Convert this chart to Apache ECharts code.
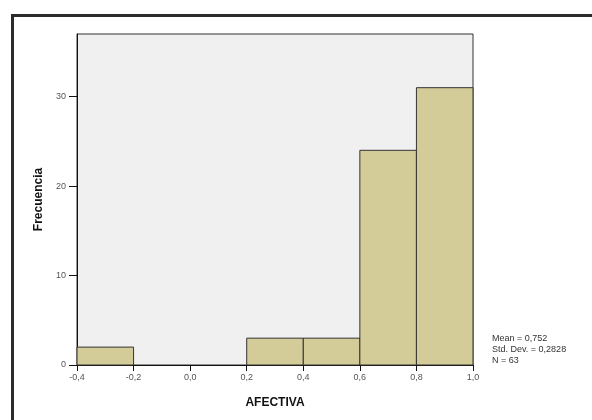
<!DOCTYPE html>
<html>
<head>
<meta charset="utf-8">
<script src="https://cdn.jsdelivr.net/npm/echarts@6/dist/echarts.min.js"></script>
<style>
html,body{margin:0;padding:0;background:#fff;}
#chart{width:592px;height:420px;}
</style>
</head>
<body>
<div id="chart"></div>
<script>
var binStarts = [-0.4, -0.2, 0.0, 0.2, 0.4, 0.6, 0.8];
var binEnds   = [-0.2,  0.0, 0.2, 0.4, 0.6, 0.8, 1.0];
var counts    = [2, 0, 0, 3, 3, 24, 31];
var yTicks = [0, 10, 20, 30];
var statsLines = ['Mean = 0,752', 'Std. Dev. = 0,2828', 'N = 63'];
var xTitle = 'AFECTIVA';
var yTitle = 'Frecuencia';

var data = binStarts.map(function (s, i) { return [s, binEnds[i], counts[i]]; });

var chart = echarts.init(document.getElementById('chart'), null, {renderer: 'canvas'});
chart.setOption({
  backgroundColor: '#ffffff',
  animation: false,
  grid: {
    left: 77, top: 34, right: 119, bottom: 55,
    show: true, backgroundColor: '#f0f0f0', borderColor: '#333333', borderWidth: 1
  },
  xAxis: {
    type: 'value', min: -0.4, max: 1.0, interval: 0.2,
    name: xTitle, nameLocation: 'middle', nameGap: 32,
    nameTextStyle: {fontFamily: 'Liberation Sans', fontWeight: 'bold', fontSize: 12, color: '#111'},
    axisLine: {show: true, onZero: false, lineStyle: {color: '#111', width: 1}},
    axisTick: {show: true, length: 6, lineStyle: {color: '#111'}},
    axisLabel: {
      margin: 8, fontSize: 9, color: '#555', fontFamily: 'Liberation Sans',
      formatter: function (v) { return v.toFixed(1).replace('.', ','); }
    },
    splitLine: {show: false}
  },
  yAxis: {
    type: 'value', min: 0, max: 37,
    name: yTitle, nameLocation: 'middle', nameGap: 32,
    nameTextStyle: {fontFamily: 'Liberation Sans', fontWeight: 'bold', fontSize: 12, color: '#111'},
    axisLine: {show: true, onZero: false, lineStyle: {color: '#111', width: 1}},
    axisTick: {show: true, length: 8, customValues: yTicks, lineStyle: {color: '#111'}},
    axisLabel: {margin: 11, fontSize: 9, color: '#555', fontFamily: 'Liberation Sans', customValues: yTicks},
    splitLine: {show: false}
  },
  series: [{
    type: 'custom',
    data: data,
    encode: {x: [0, 1], y: 2},
    renderItem: function (params, api) {
      var c = api.value(2);
      if (!c) return null;
      var p0 = api.coord([api.value(0), c]);
      var p1 = api.coord([api.value(1), 0]);
      return {
        type: 'rect',
        shape: {x: p0[0], y: p0[1], width: p1[0] - p0[0], height: p1[1] - p0[1]},
        style: {fill: '#d3cc98', stroke: '#333333', lineWidth: 1}
      };
    }
  }],
  graphic: [
    {type: 'rect', left: 10, top: 13, shape: {width: 700, height: 500},
     style: {fill: null, stroke: '#2b2b2b', lineWidth: 3}, silent: true},
    {type: 'text', left: 492, top: 333,
     style: {text: statsLines.join('\n'), fontSize: 9, lineHeight: 11,
             fontFamily: 'Liberation Sans', fill: '#333'}}
  ]
});
</script>
</body>
</html>
